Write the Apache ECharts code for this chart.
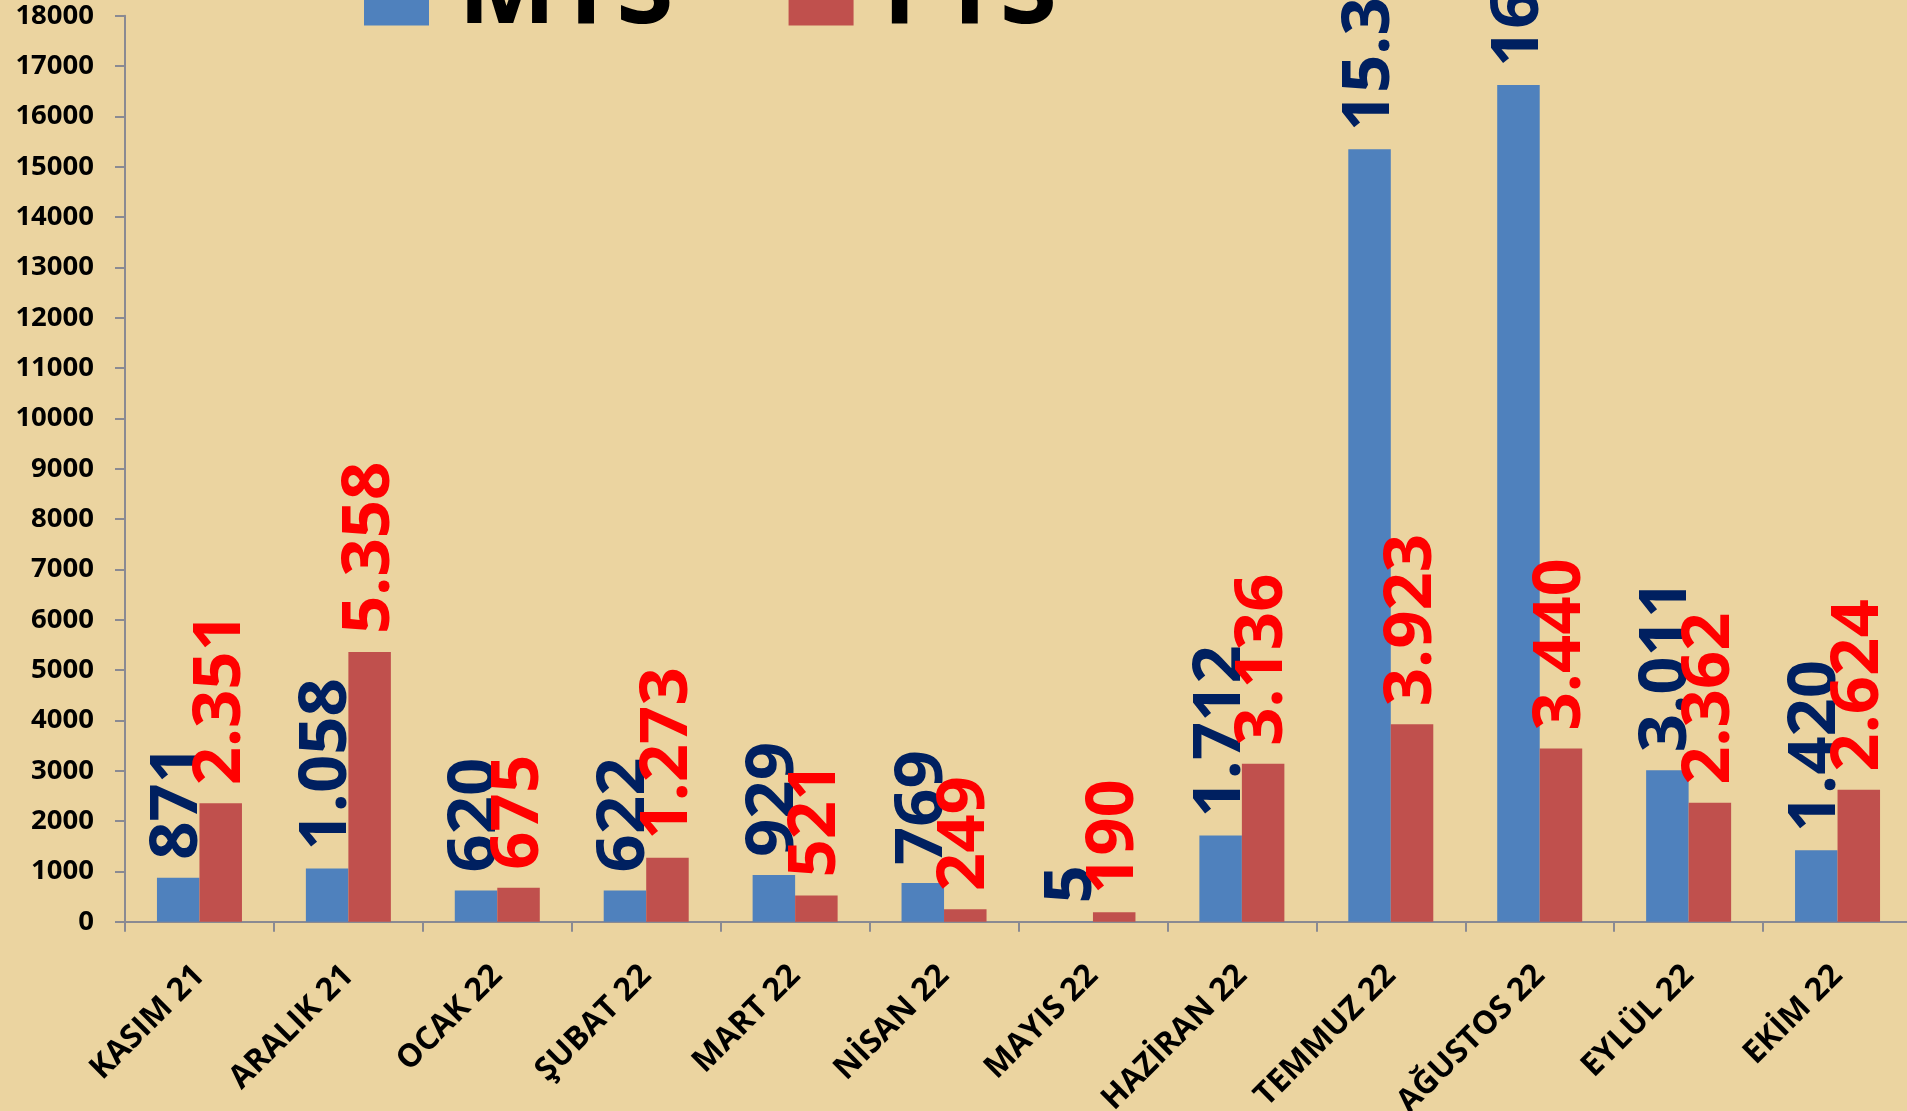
<!DOCTYPE html>
<html>
<head>
<meta charset="utf-8">
<script src="https://cdn.jsdelivr.net/npm/echarts@6/dist/echarts.min.js"></script>
<style>
  html, body { margin: 0; padding: 0; background: #EAD39E; }
  #chart { width: 1907px; height: 1111px; }
</style>
</head>
<body>
<div id="chart"></div>
<script>
const categories = ['KASIM 21', 'ARALIK 21', 'OCAK 22', 'ŞUBAT 22', 'MART 22', 'NİSAN 22', 'MAYIS 22', 'HAZİRAN 22', 'TEMMUZ 22', 'AĞUSTOS 22', 'EYLÜL 22', 'EKİM 22'];
const mtsValues = [871, 1058, 620, 622, 929, 769, 5, 1712, 15346, 16624, 3011, 1420];
const ftsValues = [2351, 5358, 675, 1273, 521, 249, 190, 3136, 3923, 3440, 2362, 2624];
const seriesNames = ['MTS', 'FTS'];
const yTicks = { min: 0, max: 18000, interval: 1000 };

function fmt(v) {
  return String(v).replace(/\B(?=(\d{3})+(?!\d))/g, '.');
}

const FONT = 'Open Sans';
const chart = echarts.init(document.getElementById('chart'), null, { renderer: 'canvas' });

function labelCfg(color) {
  return {
    show: true,
    position: 'top',
    rotate: 90,
    align: 'left',
    verticalAlign: 'middle',
    distance: 18,
    color: color,
    fontFamily: FONT,
    fontWeight: 'bold',
    fontSize: 67,
    formatter: p => fmt(p.value)
  };
}

chart.setOption({
  backgroundColor: '#EBD4A0',
  animation: false,
  textStyle: { fontFamily: FONT },
  legend: {
    data: seriesNames,
    left: 364,
    top: -59,
    padding: 0,
    itemWidth: 65,
    itemHeight: 65,
    itemGap: 115,
    icon: 'rect',
    textStyle: {
      fontFamily: FONT,
      fontWeight: 'bold',
      fontSize: 104,
      lineHeight: 100,
      color: '#000',
      padding: [0, 0, 0, 24]
    }
  },
  grid: { left: 125, right: -5, top: 15.7, bottom: 189.3, containLabel: false, outerBoundsMode: 'none' },
  xAxis: {
    type: 'category',
    data: categories,
    axisLine: { lineStyle: { color: '#8a8a92', width: 2 } },
    axisTick: { show: true, length: 10, lineStyle: { color: '#8a8a92', width: 2 } },
    axisLabel: {
      rotate: 45,
      margin: 49,
      color: '#000',
      fontFamily: FONT,
      fontWeight: 'bold',
      fontSize: 32,
      interval: 0
    }
  },
  yAxis: {
    type: 'value',
    min: yTicks.min,
    max: yTicks.max,
    interval: yTicks.interval,
    axisLine: { show: true, lineStyle: { color: '#8a8a92', width: 2 } },
    axisTick: { show: true, length: 10, lineStyle: { color: '#8a8a92', width: 2 } },
    splitLine: { show: false },
    axisLabel: {
      margin: 31,
      color: '#000',
      fontFamily: FONT,
      fontWeight: 'bold',
      fontSize: 27.5,
      formatter: v => String(v)
    }
  },
  series: [
    {
      name: seriesNames[0],
      type: 'bar',
      data: mtsValues,
      barWidth: 42.5,
      barGap: '0%',
      itemStyle: { color: '#4F81BD' },
      label: labelCfg('#002060')
    },
    {
      name: seriesNames[1],
      type: 'bar',
      data: ftsValues,
      barWidth: 42.5,
      barGap: '0%',
      itemStyle: { color: '#C0504D' },
      label: labelCfg('#FF0000')
    }
  ]
});
</script>
</body>
</html>
